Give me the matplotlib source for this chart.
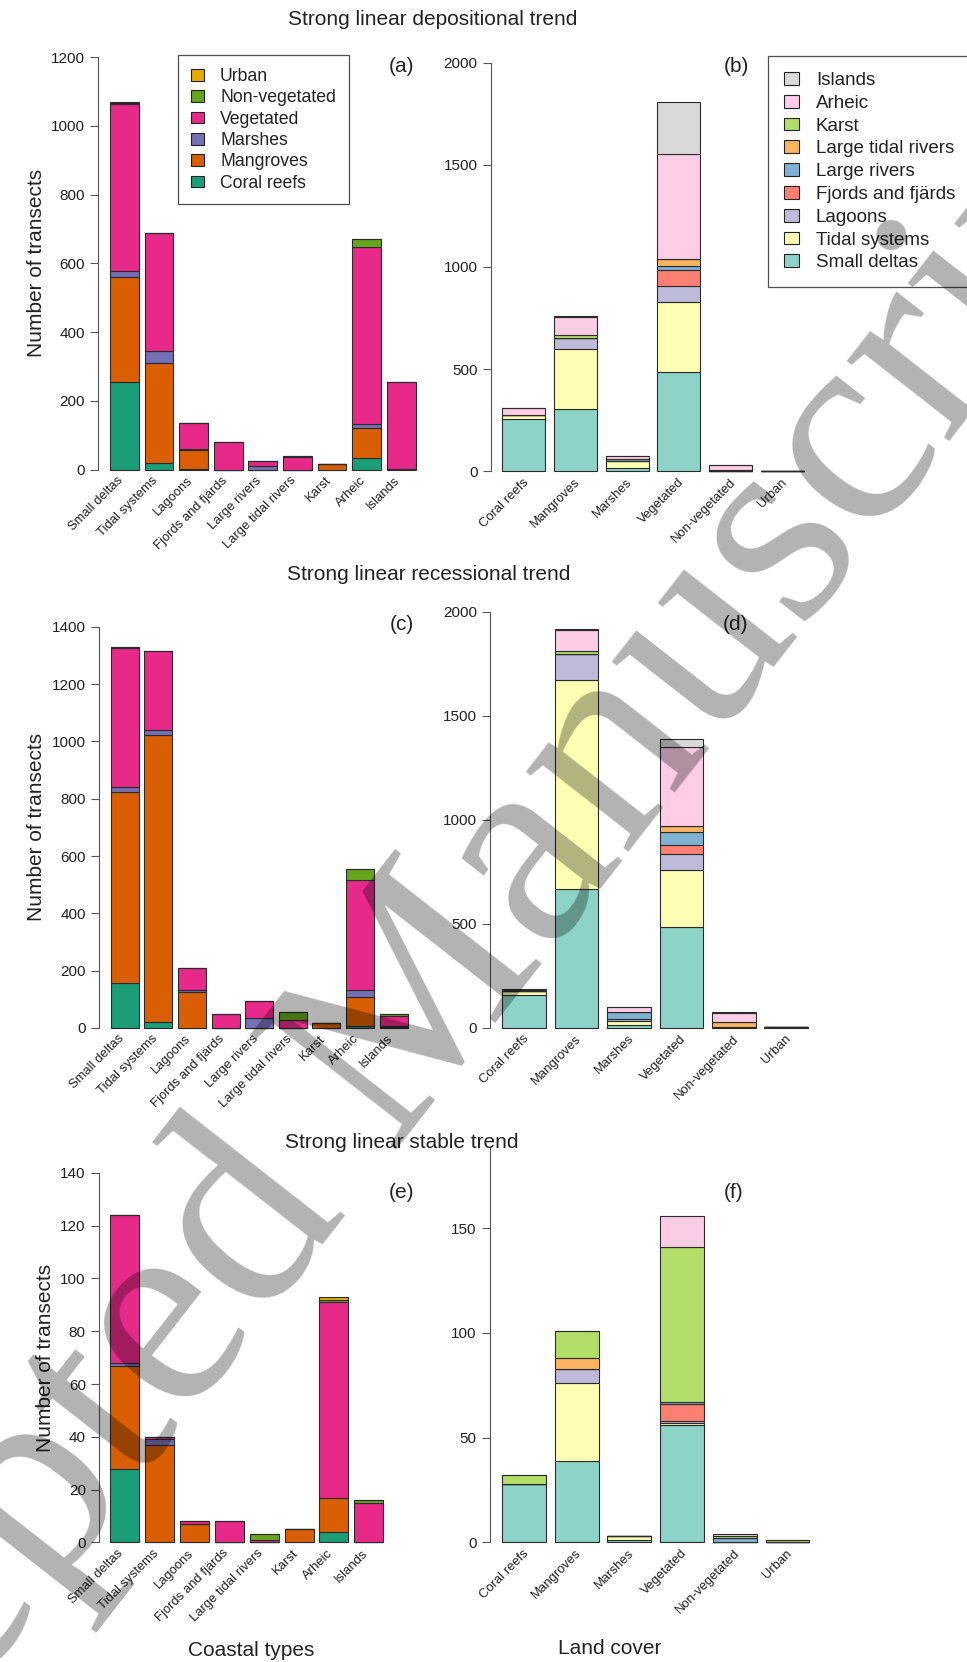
import matplotlib.pyplot as plt
from matplotlib.patches import Patch
import numpy as np

plt.rcParams['font.family'] = ['Liberation Sans', 'DejaVu Sans']

# Categories
coastal_types = ['Small deltas', 'Tidal systems', 'Lagoons', 'Fjords and fjärds', 'Large rivers',
                 'Large tidal rivers', 'Karst', 'Arheic', 'Islands']
coastal_types_stable = ['Small deltas', 'Tidal systems', 'Lagoons', 'Fjords and fjärds',
                        'Large tidal rivers', 'Karst', 'Arheic', 'Islands']
land_cover = ['Coral reefs', 'Mangroves', 'Marshes', 'Vegetated', 'Non-vegetated', 'Urban']

# Transect counts per land cover, across coastal types
dep_coral = [255, 19, 3, 0, 0, 0, 0, 33, 1]
dep_mangroves = [306, 291, 55, 0, 0, 0, 16, 89, 1]
dep_marshes = [16, 36, 1, 0, 10, 0, 0, 10, 0]
dep_vegetated = [488, 341, 78, 80, 16, 36, 0, 515, 252]
dep_nonveg = [2, 1, 0, 0, 0, 4, 0, 23, 0]
dep_urban = [2, 0, 0, 0, 0, 0, 0, 1, 0]

rec_coral = [156, 19, 1, 0, 0, 0, 0, 6, 3]
rec_mangroves = [669, 1003, 123, 0, 0, 0, 16, 103, 2]
rec_marshes = [15, 19, 9, 0, 34, 0, 0, 23, 0]
rec_vegetated = [485, 273, 76, 47, 59, 29, 0, 383, 37]
rec_nonveg = [3, 0, 0, 0, 0, 27, 0, 40, 7]
rec_urban = [2, 0, 0, 0, 0, 0, 0, 0, 0]

stb_coral = [28, 0, 0, 0, 0, 0, 4, 0]
stb_mangroves = [39, 37, 7, 0, 0, 5, 13, 0]
stb_marshes = [1, 2, 0, 0, 0, 0, 0, 0]
stb_vegetated = [56, 1, 1, 8, 1, 0, 74, 15]
stb_nonveg = [0, 0, 0, 0, 2, 0, 1, 1]
stb_urban = [0, 0, 0, 0, 0, 0, 1, 0]

land_colors = ['#1B9E77', '#D95F02', '#7570B3', '#E7298A', '#66A61E', '#E6AB02']
coast_colors = ['#8DD3C7', '#FFFFB3', '#BEBADA', '#FB8072', '#80B1D3',
                '#FDB462', '#B3DE69', '#FCCDE5', '#D9D9D9']

W, H = 967, 1662
fig = plt.figure(figsize=(W / 100, H / 100), dpi=100)
TXT = '#222222'


def panel(x_axis, first_left, pitch, n, y0, tick_px, tick_val, ticks, top_val=None):
    # place an R-style barplot region using pixel positions
    unit = pitch / 1.2
    side = (first_left - x_axis) / unit
    xlo, xhi = 0.2 - side, 1.2 * n + side
    ppu = (y0 - tick_px) / tick_val
    top = top_val if top_val else tick_val
    pad = 0.04 * top
    bottom_px = y0 + pad * ppu
    height_px = (top + 2 * pad) * ppu
    ax = fig.add_axes([x_axis / W, 1 - bottom_px / H, (xhi - xlo) * unit / W, height_px / H])
    ax.set_xlim(xlo, xhi)
    ax.set_ylim(-pad, top + pad)
    for s in ['top', 'right', 'bottom']:
        ax.spines[s].set_visible(False)
    ax.spines['left'].set_bounds(0, top)
    ax.spines['left'].set_color('#555555')
    ax.spines['left'].set_linewidth(0.8)
    ax.set_yticks(ticks)
    ax.set_xticks([])
    ax.tick_params(axis='y', length=5.5, width=0.8, color='#555555', pad=4,
                   labelsize=11, labelcolor=TXT)
    ax.patch.set_alpha(0)
    return ax


def stack(ax, rows, colors):
    rows = np.array(rows, dtype=float)
    x = 0.7 + 1.2 * np.arange(rows.shape[1])
    bottom = np.zeros(rows.shape[1])
    for vals, c in zip(rows, colors):
        ax.bar(x, vals, width=1, bottom=bottom, color=c, edgecolor='#2b2b2b', linewidth=0.8)
        bottom += vals
    return x


def xlabels(ax, x, labels, dx, dy=9):
    for xi, lab in zip(x, labels):
        ax.annotate(lab, (xi, 0), xytext=(dx * 0.72, -dy * 0.72), textcoords='offset points',
                    rotation=45, ha='right', va='center', rotation_mode='anchor',
                    fontsize=9.4, color=TXT, annotation_clip=False)


def box_legend(ax, colors, labels, left, top, size, hl, hh, spacing, bpad):
    handles = [Patch(facecolor=c, edgecolor='#222222', linewidth=0.8) for c in colors][::-1]
    leg = ax.legend(handles, labels[::-1], loc='upper left', bbox_to_anchor=(left / W, 1 - top / H),
                    bbox_transform=fig.transFigure, borderaxespad=0, fontsize=size, frameon=True,
                    fancybox=False, edgecolor='#222222', handlelength=hl, handleheight=hh,
                    handletextpad=0.89, borderpad=bpad, labelspacing=spacing)
    leg.get_frame().set_linewidth(0.9)
    for t in leg.get_texts():
        t.set_color(TXT)


dep = [dep_coral, dep_mangroves, dep_marshes, dep_vegetated, dep_nonveg, dep_urban]
rec = [rec_coral, rec_mangroves, rec_marshes, rec_vegetated, rec_nonveg, rec_urban]
stb = [stb_coral, stb_mangroves, stb_marshes, stb_vegetated, stb_nonveg, stb_urban]

# (a) depositional, by coastal type
ax = panel(98.3, 110, 34.6, 9, 469.6, 57.1, 1200, range(0, 1201, 200))
x = stack(ax, dep, land_colors)
xlabels(ax, x, coastal_types, -3)
ax.set_ylabel('Number of transects', fontsize=15, color=TXT)
box_legend(ax, land_colors, land_cover, 178.3, 55.4, 12.7, 0.76, 0.65, 0.245, 0.72)

# (b) depositional, by land cover
ax = panel(490.7, 502.3, 51.7, 6, 471.4, 62.5, 2000, range(0, 2001, 500))
x = stack(ax, np.array(dep).T, coast_colors)
xlabels(ax, x, land_cover, 3)
box_legend(ax, coast_colors, coastal_types, 768.3, 56, 13.5, 0.8, 0.67, 0.31, 0.85)

# (c) recessional, by coastal type
ax = panel(99, 110.7, 33.6, 9, 1027.9, 626.8, 1400, range(0, 1401, 200))
x = stack(ax, rec, land_colors)
xlabels(ax, x, coastal_types, -3)
ax.set_ylabel('Number of transects', fontsize=15, color=TXT)

# (d) recessional, by land cover
ax = panel(490, 502.3, 52.4, 6, 1027.9, 611.8, 2000, range(0, 2001, 500))
x = stack(ax, np.array(rec).T, coast_colors)
xlabels(ax, x, land_cover, 3)

# (e) stable, by coastal type (no large rivers)
ax = panel(99, 110, 34.9, 8, 1542.4, 1172.9, 140, range(0, 141, 20))
x = stack(ax, stb, land_colors)
xlabels(ax, x, coastal_types_stable, -3)
ax.set_ylabel('Number of transects', fontsize=15, color=TXT)

# (f) stable, by land cover
ax = panel(490, 502, 52.7, 6, 1542.4, 1228.2, 150, range(0, 151, 50), top_val=189)
x = stack(ax, np.array(stb).T, coast_colors[:len(coastal_types_stable)])
xlabels(ax, x, land_cover, 3)

# titles, panel letters and axis names
for txt, px, py in [('Strong linear depositional trend', 432.5, 19.6),
                    ('Strong linear recessional trend', 429, 574),
                    ('Strong linear stable trend', 401.3, 1142.5),
                    ('(a)', 402, 66), ('(b)', 736, 66),
                    ('(c)', 402, 624), ('(d)', 736, 624),
                    ('(e)', 402, 1192), ('(f)', 734, 1192),
                    ('Coastal types', 250.8, 1650.6), ('Land cover', 609.5, 1649)]:
    fig.text(px / W, 1 - py / H, txt, fontsize=15, color=TXT, ha='center', va='center')

# manuscript watermark
fig.text(384 / W, 1 - 1055 / H, 'Accepted Manuscript', rotation=52, fontsize=205,
         family='Liberation Serif', color='black', alpha=0.3, ha='center', va='center',
         rotation_mode='anchor', zorder=10)

fig.savefig('out.png', dpi=100)
